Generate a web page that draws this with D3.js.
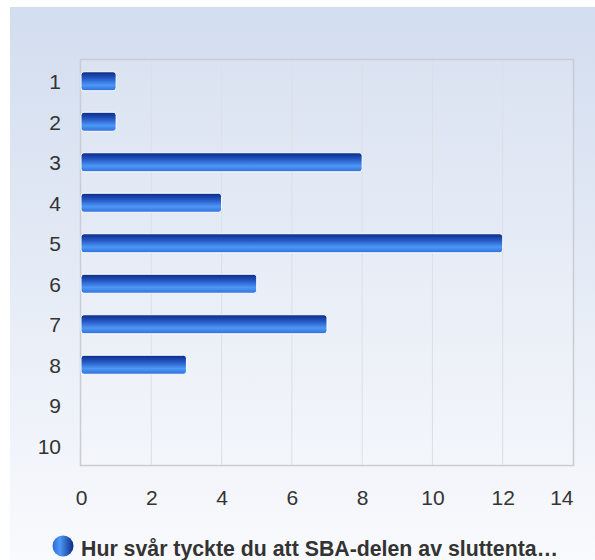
<!DOCTYPE html>
<html><head><meta charset="utf-8">
<script src="https://cdn.jsdelivr.net/npm/d3@7"></script>
<style>html,body{margin:0;padding:0;background:#fff;}svg{display:block;}</style>
</head><body>
<script>
const categories = ["1","2","3","4","5","6","7","8","9","10"];
const values = [1,1,8,4,12,5,7,3,0,0];
const xTicks = [0,2,4,6,8,10,12,14];
const seriesName = "Hur svår tyckte du att SBA-delen av sluttenta…";

const W = 595, H = 560;
const FONT = "Liberation Sans, Arial, sans-serif";
const svg = d3.select("body").append("svg").attr("width", W).attr("height", H);
const defs = svg.append("defs");

const bg = defs.append("linearGradient").attr("id","bg").attr("x1",0).attr("y1",0).attr("x2",0).attr("y2",1);
bg.append("stop").attr("offset","0%").attr("stop-color","#d2ddef");
bg.append("stop").attr("offset","100%").attr("stop-color","#f9fafd");

const bar = defs.append("linearGradient").attr("id","bar").attr("x1",0).attr("y1",0).attr("x2",0).attr("y2",1);
bar.append("stop").attr("offset","0%").attr("stop-color","#0a2a86");
bar.append("stop").attr("offset","35%").attr("stop-color","#2558c4");
bar.append("stop").attr("offset","70%").attr("stop-color","#4d98f6");
bar.append("stop").attr("offset","100%").attr("stop-color","#2f6fdc");

const leg = defs.append("linearGradient").attr("id","leg").attr("x1",0).attr("y1",0).attr("x2",1).attr("y2",0);
leg.append("stop").attr("offset","0%").attr("stop-color","#2a6ad8");
leg.append("stop").attr("offset","35%").attr("stop-color","#4d98f6");
leg.append("stop").attr("offset","100%").attr("stop-color","#0a2a86");

svg.append("rect").attr("x",10).attr("y",7).attr("width",W-10).attr("height",H-7).attr("fill","url(#bg)");

const m = {left:81, right:573, top:60, bottom:465};
const x = d3.scaleLinear().domain([0,14]).range([m.left, m.right]);
const y = d3.scaleBand().domain(categories).range([m.top, m.bottom]).paddingInner(0).paddingOuter(0);

svg.append("rect").attr("x",m.left).attr("y",m.top).attr("width",m.right-m.left).attr("height",m.bottom-m.top)
  .attr("fill","#ffffff").attr("fill-opacity",0.12);

svg.append("g").selectAll("line").data(xTicks.slice(1,-1)).join("line")
  .attr("x1",d=>x(d)).attr("x2",d=>x(d)).attr("y1",m.top).attr("y2",m.bottom)
  .attr("stroke","#dcdfe6").attr("stroke-width",1);

svg.append("rect").attr("x",m.left-0.5).attr("y",m.top-0.5).attr("width",m.right-m.left+1).attr("height",m.bottom-m.top+1)
  .attr("fill","none").attr("stroke","#c9ccd2").attr("stroke-width",1.5);

const bh = 19;
svg.append("g").selectAll("rect").data(categories.map((c,i)=>({c, v:values[i]})).filter(d=>d.v>0)).join("rect")
  .attr("x", x(0)).attr("y", d=>y(d.c)+y.bandwidth()/2 - bh/2 + 1)
  .attr("width", d=>x(d.v)-x(0)).attr("height", bh)
  .attr("rx",3).attr("ry",3)
  .attr("fill","url(#bar)").attr("stroke","#ffffff").attr("stroke-width",1);

const yAxis = d3.axisLeft(y).tickSize(0).tickPadding(0);
const gy = svg.append("g").attr("transform",`translate(${m.left-20},0)`).call(yAxis);
gy.select(".domain").remove();
gy.selectAll("text").attr("font-family",FONT).attr("font-size",21).attr("fill","#333").attr("dy","0.42em");

const xAxis = d3.axisBottom(x).tickValues(xTicks).tickSize(0).tickPadding(0);
const gx = svg.append("g").attr("transform",`translate(0,${m.bottom+40})`).call(xAxis);
gx.select(".domain").remove();
gx.selectAll("text").attr("font-family",FONT).attr("font-size",21).attr("fill","#333").attr("dy","0");
gx.selectAll(".tick").filter(d=>d===14).select("text").attr("text-anchor","end");

svg.append("circle").attr("cx",63).attr("cy",546).attr("r",10.5).attr("fill","url(#leg)");
svg.append("text").attr("x",81).attr("y",556).text(seriesName)
  .attr("font-family",FONT).attr("font-weight","bold").attr("font-size",21.3).attr("fill","#333");
</script>
</body></html>
